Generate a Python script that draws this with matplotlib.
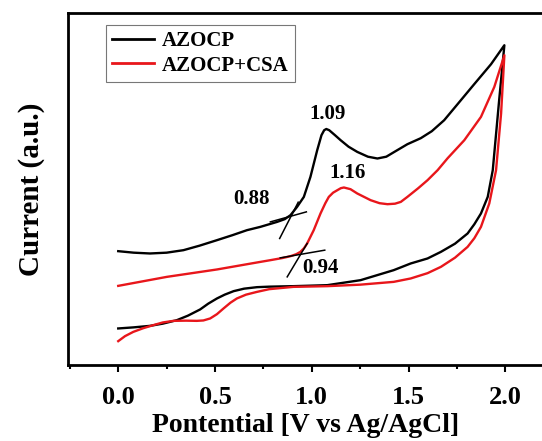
import matplotlib
matplotlib.use("Agg")
from matplotlib import pyplot as plt
from matplotlib.ticker import MultipleLocator

# values (current in arbitrary units)
azocp_fwd_v = [0.0, 0.08, 0.164, 0.25, 0.337, 0.42, 0.51, 0.59, 0.665, 0.734, 0.821, 0.860,
               0.890, 0.924, 0.959, 0.993, 1.028, 1.050, 1.064, 1.075, 1.090, 1.120, 1.149,
               1.190, 1.235, 1.290, 1.339, 1.385, 1.424, 1.494, 1.563, 1.620, 1.684, 1.753,
               1.839, 1.926, 1.995]
azocp_fwd_i = [11.4, 11.25, 11.17, 11.25, 11.5, 11.95, 12.5, 13.0, 13.5, 13.83, 14.33, 14.6,
               15.0, 15.83, 16.83, 18.83, 21.5, 23.0, 23.5, 23.62, 23.5, 23.0, 22.5,
               21.85, 21.33, 20.85, 20.67, 20.85, 21.3, 22.1, 22.7, 23.4, 24.5, 26.1,
               28.1, 30.1, 32.0]
azocp_rev_v = [1.995, 1.968, 1.935, 1.909, 1.874, 1.840, 1.805, 1.740, 1.667, 1.598, 1.511,
               1.423, 1.252, 1.080, 0.905, 0.780, 0.717, 0.650, 0.596, 0.550, 0.51, 0.465,
               0.423, 0.360, 0.303, 0.230, 0.164, 0.08, 0.0]
azocp_rev_i = [32.0, 26.5, 19.5, 16.83, 15.17, 14.1, 13.17, 12.15, 11.33, 10.67, 10.17,
               9.5, 8.5, 8.0, 7.9, 7.85, 7.8, 7.65, 7.4, 7.05, 6.67, 6.15,
               5.57, 4.95, 4.5, 4.15, 3.93, 3.78, 3.67]

csa_fwd_v = [0.0, 0.251, 0.51, 0.717, 0.786, 0.850, 0.890, 0.920, 0.941, 0.960, 0.976,
             1.010, 1.045, 1.070, 1.088, 1.110, 1.132, 1.150, 1.166, 1.200, 1.235, 1.304,
             1.350, 1.391, 1.430, 1.460, 1.494, 1.550, 1.598, 1.650, 1.702, 1.788, 1.874,
             1.943, 1.995]
csa_fwd_i = [7.93, 8.83, 9.57, 10.27, 10.5, 10.72, 10.9, 11.1, 11.33, 11.7, 12.17,
             13.5, 15.17, 16.2, 16.83, 17.25, 17.5, 17.7, 17.77, 17.6, 17.17, 16.5,
             16.2, 16.1, 16.15, 16.33, 16.83, 17.7, 18.5, 19.5, 20.7, 22.5, 24.83,
             27.83, 31.0]
csa_rev_v = [1.995, 1.978, 1.952, 1.917, 1.874, 1.840, 1.805, 1.740, 1.667, 1.598, 1.511,
             1.423, 1.250, 1.080, 0.905, 0.780, 0.717, 0.660, 0.613, 0.580, 0.544, 0.510,
             0.475, 0.440, 0.406, 0.350, 0.285, 0.230, 0.181, 0.130, 0.078, 0.035, 0.0]
csa_rev_i = [31.0, 25.17, 19.5, 16.17, 13.83, 12.7, 11.83, 10.75, 9.83, 9.2, 8.67,
             8.33, 8.05, 7.9, 7.83, 7.6, 7.33, 7.05, 6.67, 6.25, 5.67, 5.1,
             4.67, 4.47, 4.43, 4.45, 4.43, 4.27, 4.0, 3.7, 3.33, 2.9, 2.4]

# onset tangent lines (start, end)
tangents = [((0.786, 0.972), (14.33, 15.33)), ((0.834, 0.93), (12.67, 16.3)),
            ((0.837, 1.067), (10.73, 11.5)), ((0.873, 0.976), (8.83, 12.17))]

labels = ["1.09", "1.16", "0.88", "0.94"]
label_v = [1.08, 1.183, 0.686, 1.045]
label_i = [25.17, 19.17, 16.6, 9.67]

plt.rcParams['font.family'] = 'Liberation Serif'
plt.rcParams['font.weight'] = 'bold'

fig = plt.figure(figsize=(5.42, 4.41), dpi=100)
ax = fig.add_axes([0.126, 0.172, 0.876, 0.798])

ax.plot(azocp_fwd_v + azocp_rev_v, azocp_fwd_i + azocp_rev_i, color='black', lw=1.7,
        label='AZOCP')
ax.plot(csa_fwd_v + csa_rev_v, csa_fwd_i + csa_rev_i, color='#e8161b', lw=1.7,
        label='AZOCP+CSA')
for xs, ys in tangents:
    ax.plot(xs, ys, color='black', lw=1.1)

for t, x, y in zip(labels, label_v, label_i):
    ax.text(x, y, t, fontsize=15, fontweight='bold', ha='center', va='center')

ax.set_xlim(-0.258, 2.195)
ax.set_ylim(0, 35.2)
ax.set_yticks([])
ax.xaxis.set_major_locator(MultipleLocator(0.5))
ax.xaxis.set_minor_locator(MultipleLocator(0.25))
ax.tick_params(axis='x', which='major', direction='out', length=5, width=1.5,
               labelsize=19, pad=10)
ax.tick_params(axis='x', which='minor', direction='out', length=3, width=1.5)
for s in ax.spines.values():
    s.set_linewidth(2)

ax.set_xlabel('Pontential [V vs Ag/AgCl]', fontsize=20, fontweight='bold', labelpad=3)
ax.set_ylabel('Current (a.u.)', fontsize=21, fontweight='bold', labelpad=17)

leg = ax.legend(loc='upper left', bbox_to_anchor=(0.079, 0.966), fontsize=15,
                fancybox=False, edgecolor='#555555', handlelength=2.0,
                borderpad=0.3, labelspacing=0.2, handletextpad=0.4, borderaxespad=0)
leg.get_frame().set_linewidth(0.8)
for line in leg.get_lines():
    line.set_linewidth(2)

fig.savefig('out.png', dpi=100)
